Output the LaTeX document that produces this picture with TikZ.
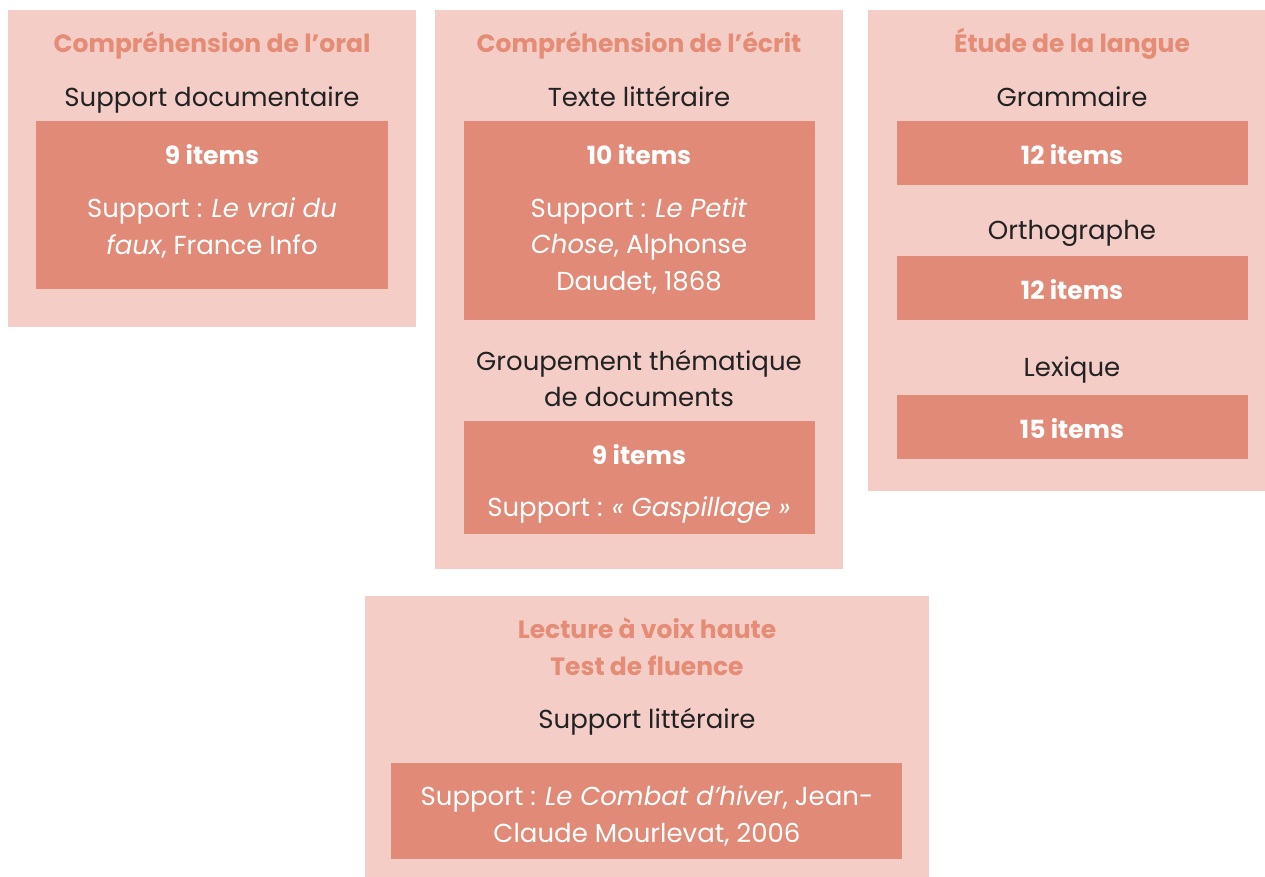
\documentclass[tikz,border=0pt]{standalone}
\usepackage{fontspec}
\setmainfont{Poppins}
\usepackage{tikz}
\usetikzlibrary{positioning}
\definecolor{panelbg}{HTML}{F4CDC7}
\definecolor{boxbg}{HTML}{E08A77}
\definecolor{headcol}{HTML}{E48C76}
\definecolor{ink}{HTML}{222222}

\begin{document}
\begin{tikzpicture}[x=1pt, y=-1pt,
    panel/.style={fill=panelbg, anchor=north west, inner sep=0pt},
    boxitem/.style={fill=boxbg, anchor=north west, inner sep=0pt},
    head/.style={anchor=base, align=center, text=headcol, font=\fontsize{25}{37}\selectfont\bfseries},
    sub/.style={anchor=base, align=center, text=ink, font=\fontsize{26}{36}\selectfont},
    count/.style={anchor=base, text=white, font=\fontsize{25}{36}\selectfont\bfseries},
    src/.style={anchor=base, align=center, text=white, font=\fontsize{26}{36.5}\selectfont}]
    \useasboundingbox (0,0) rectangle (1265,876);
    \begin{scope}
        \clip (0,0) rectangle (1265,876);

        % oral
        \node[panel, minimum width=408pt, minimum height=317pt] (oral) at (8,10) {};
        \node[boxitem, minimum width=352pt, minimum height=168pt] (oralbox) at (36,121) {};
        \node[head] (oralhead) at (212,52) {Compréhension de l’oral};
        \node[sub] (oralsub) at (212,106) {Support documentaire};
        \node[count] (oralcount) at (212,164) {9 items};
        \node[src] (oralsrc) at (212,254) {Support : \textit{Le vrai du}\\\textit{faux}, France Info};

        % ecrit
        \node[panel, minimum width=408pt, minimum height=559pt] (ecrit) at (435,10) {};
        \node[boxitem, minimum width=351pt, minimum height=199pt] (ecritboxa) at (464,121) {};
        \node[boxitem, minimum width=351pt, minimum height=113pt] (ecritboxb) at (464,421) {};
        \node[head] (ecrithead) at (639,52) {Compréhension de l’écrit};
        \node[sub] (ecritsuba) at (639,106) {Texte littéraire};
        \node[count] (ecritcounta) at (639,164) {10 items};
        \node[src] (ecritsrca) at (639,290) {Support : \textit{Le Petit}\\\textit{Chose}, Alphonse\\Daudet, 1868};
        \node[sub] (ecritsubb) at (639,406) {Groupement thématique\\de documents};
        \node[count] (ecritcountb) at (639,464) {9 items};
        \node[src] (ecritsrcb) at (639,516) {Support : \textit{« Gaspillage »}};

        % langue
        \node[panel, minimum width=408pt, minimum height=481pt] (langue) at (868,10) {};
        \node[boxitem, minimum width=351pt, minimum height=64pt] (gramgbox) at (897,121) {};
        \node[boxitem, minimum width=351pt, minimum height=64pt] (orthobox) at (897,256) {};
        \node[boxitem, minimum width=351pt, minimum height=64pt] (lexbox) at (897,395) {};
        \node[head] (languehead) at (1072,52) {Étude de la langue};
        \node[sub] (gramsub) at (1072,106) {Grammaire};
        \node[count] (gramcount) at (1072,164) {12 items};
        \node[sub] (orthosub) at (1072,239) {Orthographe};
        \node[count] (orthocount) at (1072,299) {12 items};
        \node[sub] (lexsub) at (1072,376) {Lexique};
        \node[count] (lexcount) at (1072,438) {15 items};

        % lecture
        \node[panel, minimum width=564pt, minimum height=290pt] (lecture) at (365,596) {};
        \node[boxitem, minimum width=511pt, minimum height=96pt] (lecturebox) at (391,763) {};
        \node[head] (lecturehead) at (647,675) {Lecture à voix haute\\Test de fluence};
        \node[sub] (lecturesub) at (647,728) {Support littéraire};
        \node[src] (lecturesrc) at (647,842) {Support : \textit{Le Combat d’hiver}, Jean-\\Claude Mourlevat, 2006};
    \end{scope}
\end{tikzpicture}
\end{document}
